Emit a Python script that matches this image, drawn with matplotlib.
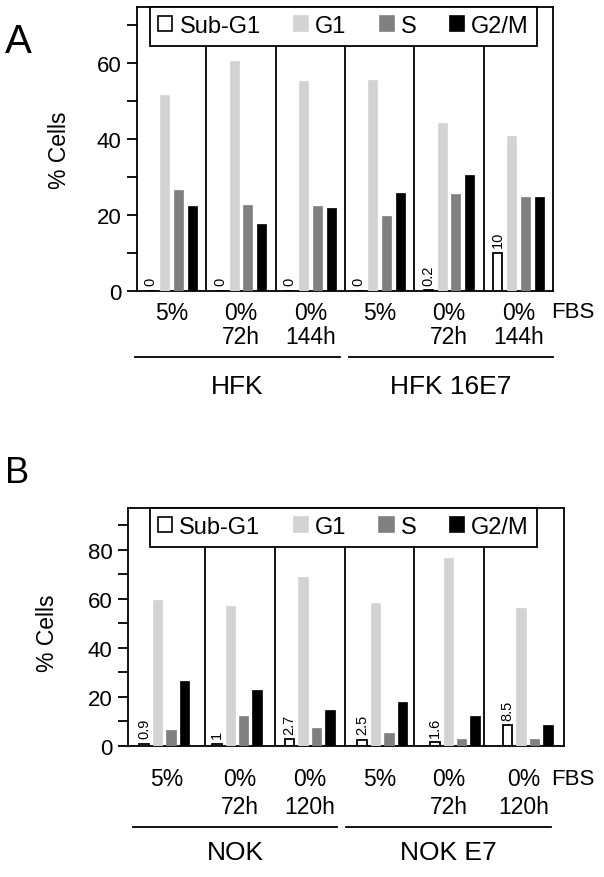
import numpy as np
import matplotlib
matplotlib.use("Agg")
import matplotlib.pyplot as plt
from matplotlib.patches import Patch
from matplotlib.ticker import MultipleLocator

plt.rcParams['font.family'] = ['Liberation Sans', 'DejaVu Sans']

phases = ['Sub-G1', 'G1', 'S', 'G2/M']
colors = ['white', '#d3d3d3', '#808080', 'black']

# panel A
serum_a = ['5%', '0%', '0%', '5%', '0%', '0%']
time_a = ['', '72h', '144h', '', '72h', '144h']
cells_a = ['HFK', 'HFK 16E7']
subg1_a = [0, 0, 0, 0, 0.2, 10]
g1_a = [51.6, 60.5, 55.1, 55.3, 44.1, 40.7]
s_a = [26.5, 22.6, 22.4, 19.7, 25.6, 24.6]
g2m_a = [22.4, 17.5, 21.8, 25.7, 30.6, 24.6]

# panel B
serum_b = ['5%', '0%', '0%', '5%', '0%', '0%']
time_b = ['', '72h', '120h', '', '72h', '120h']
cells_b = ['NOK', 'NOK E7']
subg1_b = [0.9, 1, 2.7, 2.5, 1.6, 8.5]
g1_b = [59.4, 57.1, 69.0, 58.1, 76.7, 56.4]
s_b = [6.4, 12.1, 7.3, 5.4, 3.0, 2.7]
g2m_b = [26.4, 23.0, 14.8, 17.9, 12.1, 8.5]

W, H = 604, 878
fig = plt.figure(figsize=(W / 100, H / 100), dpi=100)


def panel(rect_px, ymax, series, serum, time, cells, spans, legend_x, row_px, spacing, dividers):
    left, top, right, bottom = rect_px
    hpx = bottom - top
    ax = fig.add_axes([left / W, 1 - bottom / H, (right - left) / W, hpx / H])
    def yfrac(y):
        return (bottom - y) / hpx

    n = len(serum)
    x = np.arange(n) + 0.5
    for k, (vals, c) in enumerate(zip(series, colors)):
        off = (k - 1.5) * spacing
        ax.bar(x + off, vals, width=0.13, color=c,
               edgecolor='black' if k in (0, 3) else c,
               linewidth=1.3 if k == 0 else 0.5, zorder=3)
    for xi, v in zip(x, series[0]):
        ax.annotate(f"{v:g}", (xi - 1.5 * spacing, v), xytext=(0, 4),
                    textcoords='offset points', rotation=90,
                    ha='center', va='bottom', fontsize=10.5)

    ax.set_xlim(0, n)
    ax.set_ylim(0, ymax)
    ax.set_xticks([])
    ax.yaxis.set_major_locator(MultipleLocator(20))
    ax.yaxis.set_minor_locator(MultipleLocator(10))
    ax.tick_params(axis='y', which='both', direction='out', length=7, width=1.3,
                   labelsize=16, pad=4)
    for sp in ax.spines.values():
        sp.set_linewidth(1.3)

    leg = ax.legend([Patch(facecolor=c, edgecolor='black' if c == 'white' else c, linewidth=1.2)
                     for c in colors], phases,
                    loc='upper left', bbox_to_anchor=(legend_x[0], 0, legend_x[1] - legend_x[0], 1),
                    mode='expand', ncol=4, borderaxespad=0, fancybox=False,
                    framealpha=1, edgecolor='black', fontsize=17,
                    handlelength=0.6, handleheight=0.6, handletextpad=0.3,
                    borderpad=0.35, columnspacing=1.0)
    leg.get_frame().set_linewidth(1.3)
    fig.canvas.draw()
    bb = leg.get_window_extent().transformed(ax.transAxes.inverted())
    xt = ax.get_xaxis_transform()
    ax.vlines(dividers, 0, bb.y0, colors='black', linewidth=1.3, zorder=4, transform=xt)

    edges = np.concatenate([[0], dividers, [n]])
    xl = (edges[:-1] + edges[1:]) / 2
    r1, r2, rl, rg = row_px
    for xi, s, t in zip(xl, serum, time):
        ax.text(xi, yfrac(r1), s, transform=xt, ha='center', va='center', fontsize=16.5, clip_on=False)
        if t:
            ax.text(xi, yfrac(r2), t, transform=xt, ha='center', va='center', fontsize=16.5, clip_on=False)
    fig.text(551 / W, 1 - r1 / H, 'FBS', ha='left', va='center', fontsize=16)
    for (a, b), name in zip(spans, cells):
        ax.plot([a, b], [yfrac(rl)] * 2, color='black', linewidth=1.3, transform=xt, clip_on=False)
        ax.text((a + b) / 2, yfrac(rg), name, transform=xt, ha='center', va='center',
                fontsize=19, clip_on=False)
    return ax, yfrac


ax_a, yf_a = panel((137, 8, 553, 292), 74.6, [subg1_a, g1_a, s_a, g2m_a], serum_a, time_a, cells_a,
                   [(-0.03, 2.93), (3.06, 6.0)], (0.031, 0.962), (313, 338, 358, 387), 0.2,
                   [1, 2, 3, 4, 5])
ax_a.text((60 - 137) / 416, yf_a(150), '% Cells', transform=ax_a.transAxes, rotation=90,
          ha='center', va='center', fontsize=16.5)

ax_b, yf_b = panel((128, 509, 564, 747), 97, [subg1_b, g1_b, s_b, g2m_b], serum_b, time_b, cells_b,
                   [(0.07, 2.88), (3.0, 5.82)], (0.05, 0.938), (780, 808, 828, 853), 0.185,
                   [1.06, 2.02, 2.98, 3.94, 4.9])
ax_b.text((48 - 128) / 436, yf_b(633), '% Cells', transform=ax_b.transAxes, rotation=90,
          ha='center', va='center', fontsize=16.5)

fig.text(5 / W, 1 - 42 / H, 'A', fontsize=29, ha='left', va='center')
fig.text(5 / W, 1 - 474 / H, 'B', fontsize=26, ha='left', va='center')

fig.savefig('out.png', dpi=100)
